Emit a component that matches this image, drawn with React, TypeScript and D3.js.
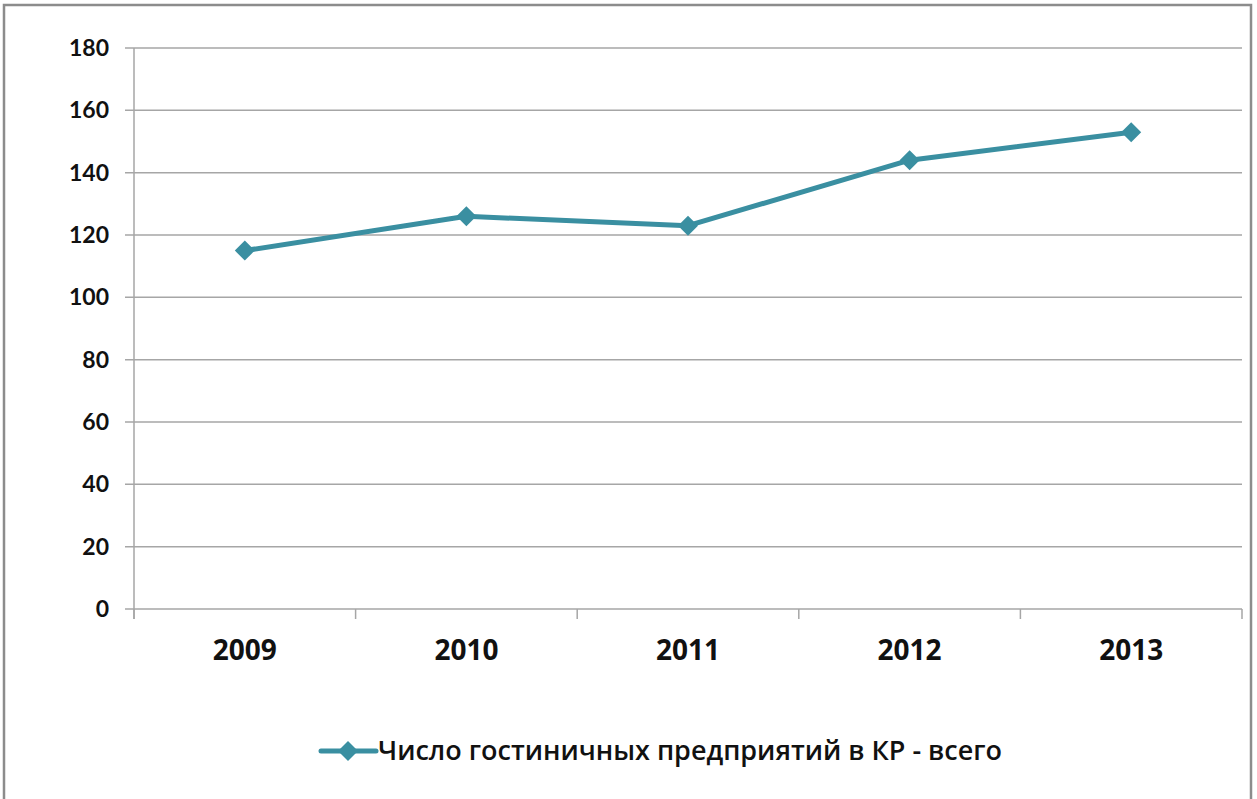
import * as d3 from 'd3'

const years = ['2009', '2010', '2011', '2012', '2013']
const hotels = [115, 126, 123, 144, 153]
const yTicks = [0, 20, 40, 60, 80, 100, 120, 140, 160, 180]
const seriesName = 'Число гостиничных предприятий в КР - всего'

const W = 1257
const H = 799
const m = { top: 48, right: 15, bottom: 190, left: 134 }
const color = '#3a8fa1'
const grid = '#a6a6a6'

export default function App() {
  const iW = W - m.left - m.right
  const iH = H - m.top - m.bottom
  const x = d3.scaleBand().domain(years).range([0, iW])
  const y = d3.scaleLinear().domain([0, 180]).range([iH, 0])
  const line = d3.line<number>().x((_, i) => x(years[i])! + x.bandwidth() / 2).y(d => y(d))
  const diamond = (cx: number, cy: number, r: number) =>
    `M${cx},${cy - r}L${cx + r},${cy}L${cx},${cy + r}L${cx - r},${cy}Z`
  const bounds = years.map(yr => x(yr)!).concat([iW])

  return (
    <svg width={W} height={H} style={{ position: 'absolute', left: 0, top: 0, background: '#fff' }}>
      <rect x={4} y={5} width={1247} height={800} fill="#fff" stroke="#8c8c8c" strokeWidth={2.5} />
      <g transform={`translate(${m.left},${m.top})`}>
        {/* grid */}
        {yTicks.map(t => (
          <g key={t}>
            <line x1={-9} x2={iW} y1={y(t)} y2={y(t)} stroke={grid} strokeWidth={1.5} />
            <text x={-25} y={y(t)} dy="0.35em" textAnchor="end" fontFamily="Lato" fontWeight={700} fontSize={23} fill="#111">{t}</text>
          </g>
        ))}
        <line x1={0} x2={0} y1={0} y2={iH + 10} stroke={grid} strokeWidth={1.5} />
        {bounds.map((b, i) => (
          <line key={i} x1={b} x2={b} y1={iH} y2={iH + 10} stroke={grid} strokeWidth={1.5} />
        ))}
        {years.map(yr => (
          <text key={yr} x={x(yr)! + x.bandwidth() / 2} y={iH + 51} textAnchor="middle" fontFamily="Open Sans" fontWeight={700} fontSize={28} fill="#111">{yr}</text>
        ))}
        {/* series */}
        <path d={line(hotels)!} fill="none" stroke={color} strokeWidth={5} strokeLinejoin="round" />
        {hotels.map((v, i) => (
          <path key={i} d={diamond(x(years[i])! + x.bandwidth() / 2, y(v), 10)} fill={color} />
        ))}
      </g>
      {/* legend */}
      <g>
        <line x1={321} x2={376} y1={751} y2={751} stroke={color} strokeWidth={5} strokeLinecap="round" />
        <path d={diamond(348, 751, 10)} fill={color} />
        <text x={378} y={760} fontFamily="Open Sans" fontWeight={600} fontSize={27} fill="#111" textLength={624} lengthAdjust="spacingAndGlyphs">{seriesName}</text>
      </g>
    </svg>
  )
}
